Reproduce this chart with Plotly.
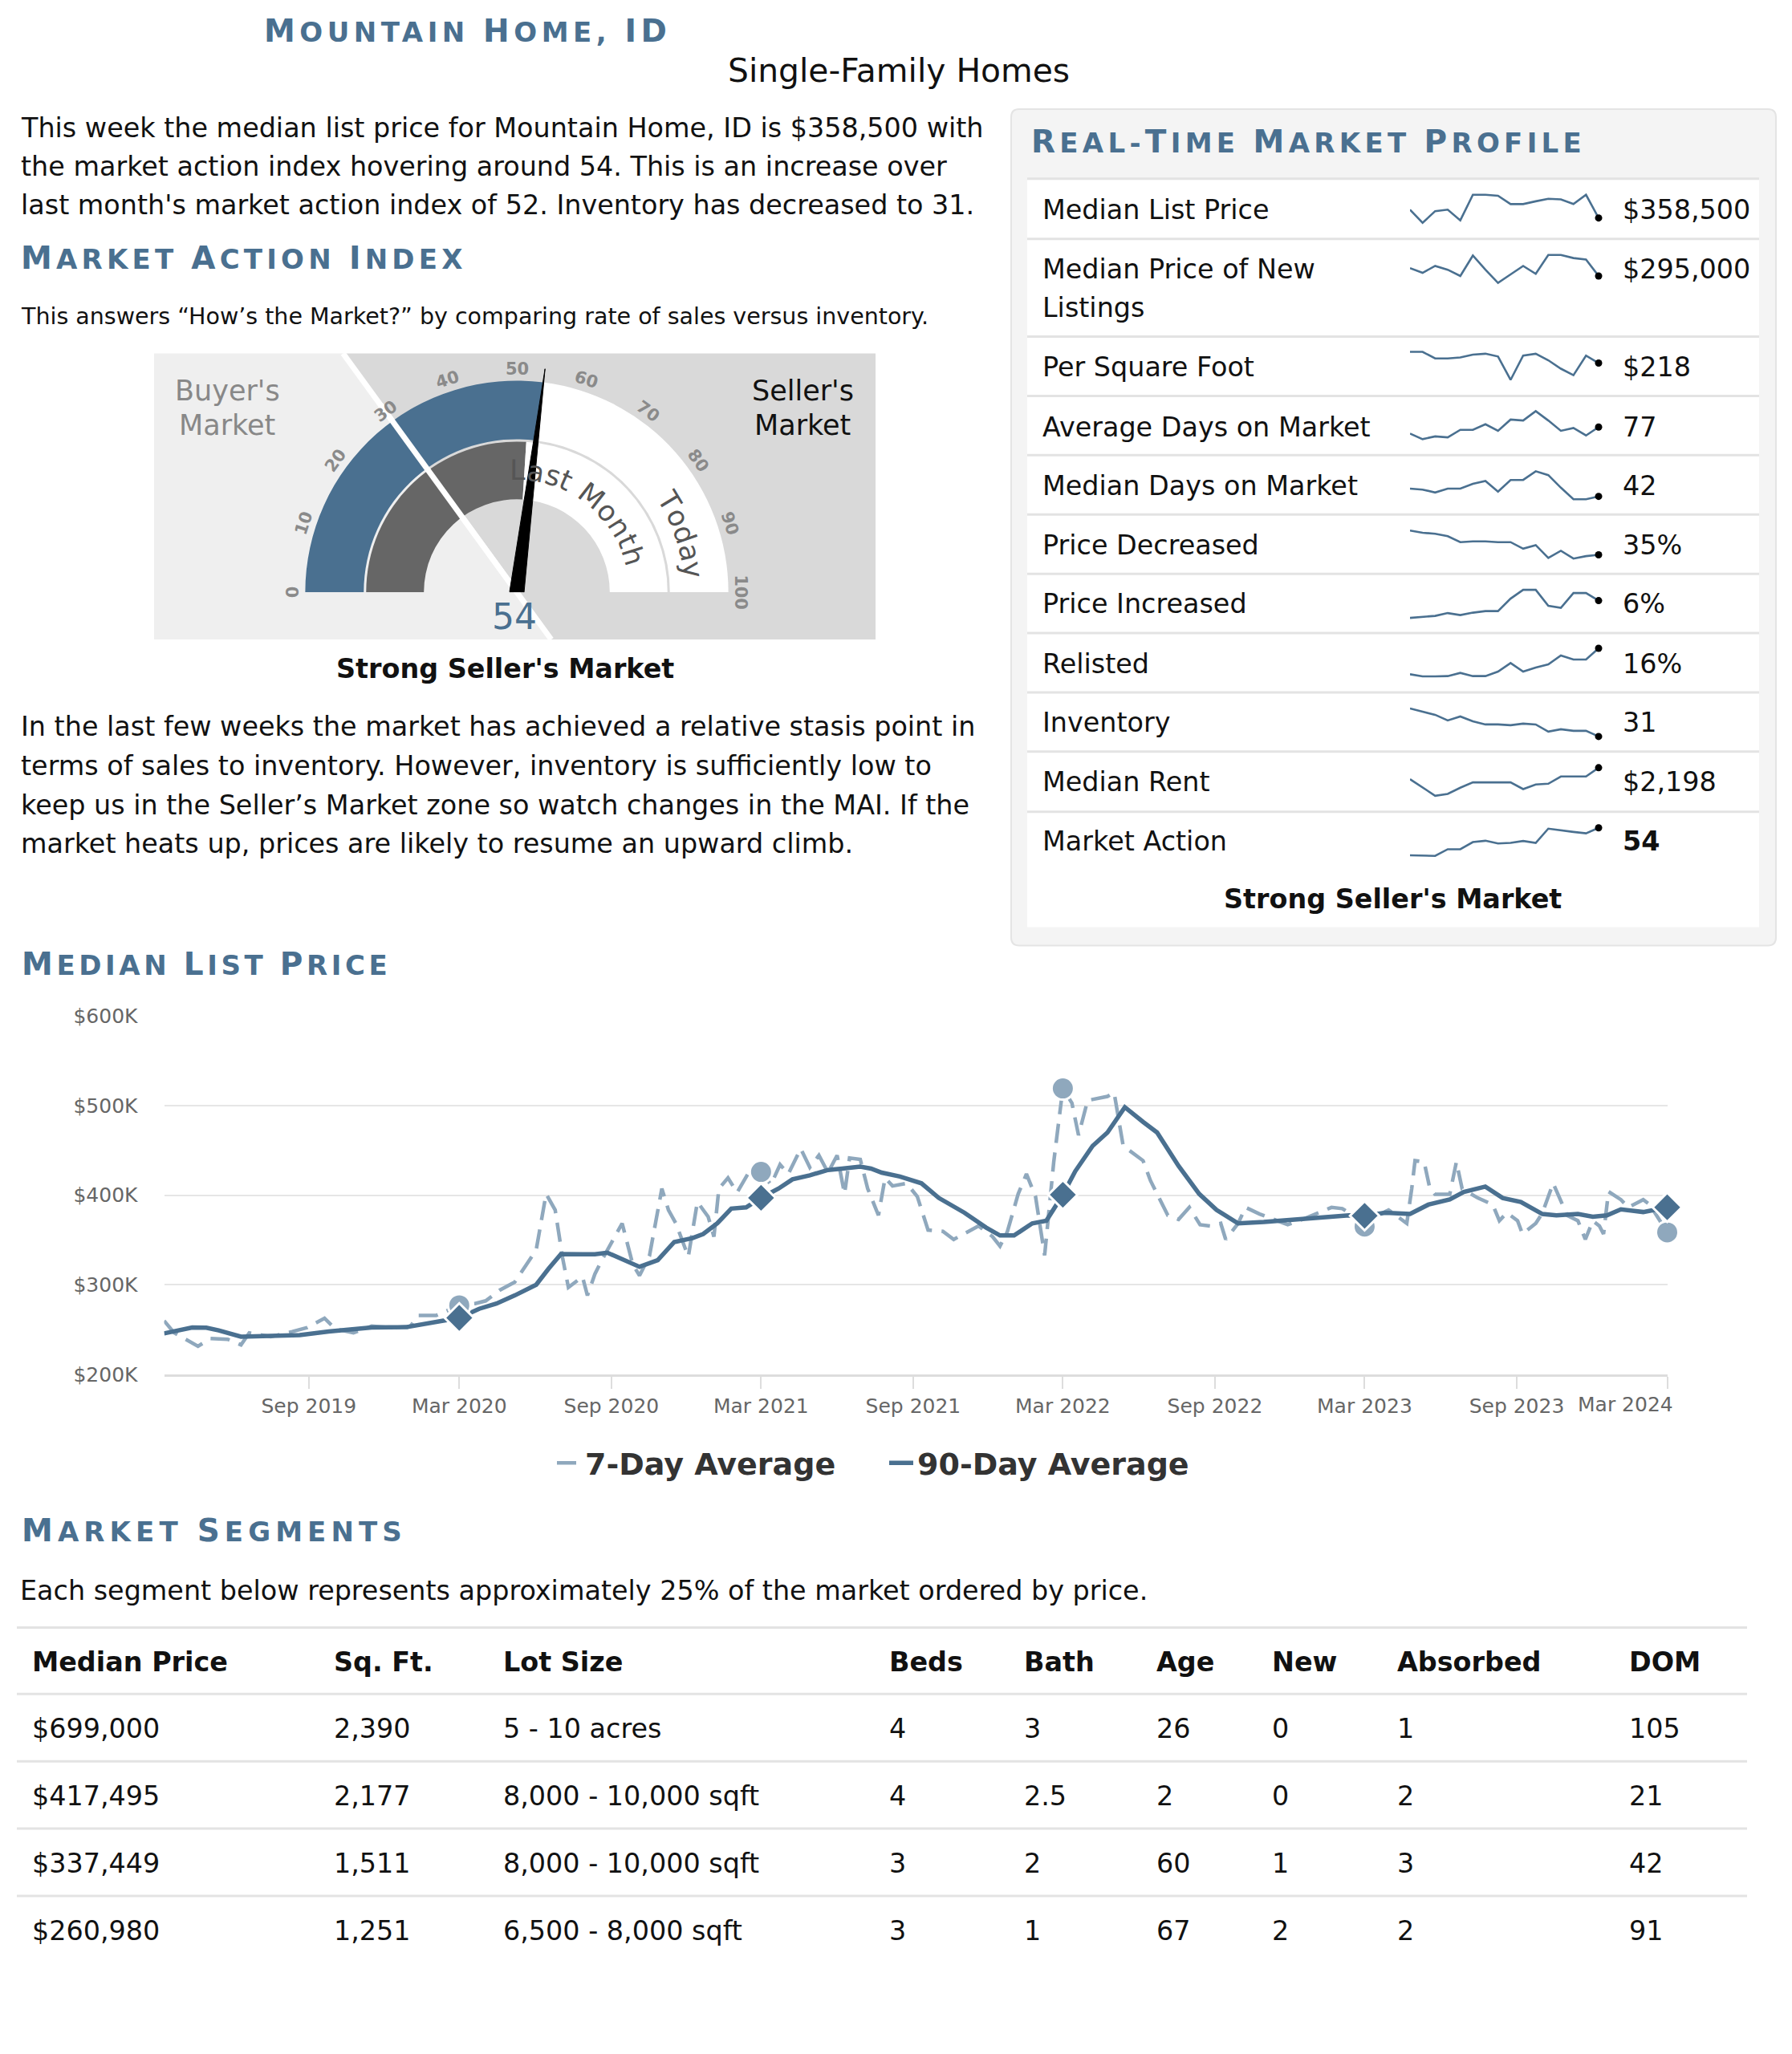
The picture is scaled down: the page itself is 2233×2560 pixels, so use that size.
import math
import plotly.graph_objects as go

W, H = 2233, 2560
FONT = "DejaVu Sans"
BLUE = "#4a7090"
LIGHT = "#8fa8bd"
INK = "#111111"
BODY = 33.4
# the capture shifts/squeezes the page slightly in the vertical direction; compensate
V_OFF, V_SC = 13.9, 0.99


def X(px):
    return px / W


def Y(py):
    return 1 - ((py - V_OFF) / V_SC) / H


# ---------------- DATA ----------------
CITY = "Mountain Home, ID"
SEGMENT = "Single-Family Homes"
INTRO_LINES = [
    "This week the median list price for Mountain Home, ID is $358,500 with",
    "the market action index hovering around 54. This is an increase over",
    "last month's market action index of 52. Inventory has decreased to 31.",
]
MAI_NOTE = "This answers \u201cHow\u2019s the Market?\u201d by comparing rate of sales versus inventory."
OUTLOOK_LINES = [
    "In the last few weeks the market has achieved a relative stasis point in",
    "terms of sales to inventory. However, inventory is sufficiently low to",
    "keep us in the Seller\u2019s Market zone so watch changes in the MAI. If the",
    "market heats up, prices are likely to resume an upward climb.",
]
MARKET_STATE = "Strong Seller's Market"

MAI_TODAY = 54
MAI_LAST_MONTH = 52
MAI_SPLIT = 30
GAUGE_TICKS = [0, 10, 20, 30, 40, 50, 60, 70, 80, 90, 100]

D90_DATES = [
    "2019-03-10", "2019-04-13", "2019-04-30", "2019-05-15", "2019-06-11", "2019-07-17", "2019-08-21",
    "2019-09-25", "2019-10-25", "2019-11-16", "2019-12-29", "2020-02-02", "2020-03-01", "2020-03-25",
    "2020-04-15", "2020-05-07", "2020-06-02", "2020-06-17", "2020-07-02", "2020-07-28", "2020-08-12",
    "2020-08-27", "2020-09-14", "2020-10-05", "2020-10-27", "2020-11-16", "2020-12-08", "2020-12-21",
    "2021-01-07", "2021-01-24", "2021-02-11", "2021-03-01", "2021-03-22", "2021-04-08", "2021-04-29",
    "2021-05-21", "2021-06-07", "2021-06-29", "2021-07-12", "2021-07-25", "2021-08-16", "2021-09-11",
    "2021-10-02", "2021-11-02", "2021-11-28", "2021-12-15", "2022-01-01", "2022-01-23", "2022-02-09",
    "2022-03-01", "2022-03-16", "2022-04-06", "2022-04-24", "2022-05-15", "2022-06-06", "2022-06-23",
    "2022-07-19", "2022-08-13", "2022-09-03", "2022-09-29", "2022-10-30", "2022-12-03", "2022-12-29",
    "2023-02-10", "2023-03-01", "2023-03-26", "2023-04-25", "2023-05-17", "2023-06-12", "2023-06-29",
    "2023-07-25", "2023-08-15", "2023-09-06", "2023-10-02", "2023-10-19", "2023-11-14", "2023-12-02",
    "2023-12-19", "2024-01-05", "2024-02-01", "2024-03-01",
]
D90_VALUES = [
    245600, 252200, 252000, 249000, 242000, 242300, 243800,
    247700, 250700, 252200, 252800, 258800, 263000, 273100,
    279000, 288000, 300000, 317900, 334200, 334000, 334000,
    335800, 328200, 320000, 327500, 347700, 352100, 356600,
    368500, 385000, 386400, 397000, 407300, 417700, 422200,
    428200, 429700, 431800, 429700, 425200, 420800, 413300,
    396900, 380400, 364000, 355000, 355000, 368500, 371500,
    400500, 426700, 455000, 470000, 498300, 481900, 470000,
    432700, 401400, 383500, 368500, 370000, 372100, 374500,
    377500, 377000, 380400, 379000, 389400, 395300, 403600,
    409600, 396900, 392400, 379000, 377500, 379000, 376000,
    377500, 384200, 381200, 386500,
]

D7_DATES = [
    "2019-03-10", "2019-03-22", "2019-04-20", "2019-05-05", "2019-05-26", "2019-06-11", "2019-06-21",
    "2019-07-17", "2019-08-12", "2019-08-30", "2019-09-20", "2019-10-03", "2019-10-25", "2019-11-16",
    "2019-12-12", "2020-01-02", "2020-01-11", "2020-02-02", "2020-03-01", "2020-03-20", "2020-04-02",
    "2020-04-19", "2020-05-07", "2020-05-20", "2020-06-02", "2020-06-14", "2020-06-25", "2020-07-04",
    "2020-07-11", "2020-07-28", "2020-08-03", "2020-08-12", "2020-08-21", "2020-09-14", "2020-09-27",
    "2020-10-05", "2020-10-17", "2020-11-01", "2020-11-09", "2020-11-18", "2020-12-03", "2020-12-14",
    "2020-12-27", "2021-01-03", "2021-01-09", "2021-01-20", "2021-01-31", "2021-02-14", "2021-03-01",
    "2021-03-13", "2021-03-24", "2021-04-03", "2021-04-18", "2021-04-29", "2021-05-10", "2021-05-21",
    "2021-06-01", "2021-06-10", "2021-06-16", "2021-06-29", "2021-07-08", "2021-07-21", "2021-07-29",
    "2021-08-07", "2021-08-24", "2021-09-06", "2021-09-19", "2021-10-07", "2021-10-20", "2021-11-01",
    "2021-11-19", "2021-12-06", "2021-12-15", "2021-12-24", "2022-01-06", "2022-01-16", "2022-01-27",
    "2022-02-07", "2022-02-18", "2022-03-01", "2022-03-12", "2022-03-20", "2022-03-31", "2022-04-24",
    "2022-05-02", "2022-05-13", "2022-06-06", "2022-06-15", "2022-06-27", "2022-07-06", "2022-07-19",
    "2022-08-01", "2022-08-14", "2022-08-26", "2022-09-08", "2022-09-14", "2022-09-29", "2022-10-08",
    "2022-10-25", "2022-11-07", "2022-11-28", "2022-12-20", "2023-01-20", "2023-02-02", "2023-02-15",
    "2023-03-01", "2023-03-17", "2023-03-30", "2023-04-21", "2023-04-27", "2023-05-01", "2023-05-12",
    "2023-05-19", "2023-05-25", "2023-06-12", "2023-06-20", "2023-06-27", "2023-07-16", "2023-08-03",
    "2023-08-11", "2023-08-20", "2023-09-02", "2023-09-08", "2023-09-24", "2023-10-02", "2023-10-15",
    "2023-10-24", "2023-11-01", "2023-11-14", "2023-11-23", "2023-12-02", "2023-12-10", "2023-12-15",
    "2023-12-21", "2024-01-05", "2024-01-14", "2024-02-01", "2024-02-09", "2024-03-01",
]
D7_VALUES = [
    259700, 246500, 231300, 240000, 239000, 232800, 246200,
    242000, 247700, 252200, 262600, 250700, 246200, 253700,
    252000, 253700, 265600, 265600, 277000, 279000, 282000,
    294000, 302900, 320800, 338700, 401400, 383500, 329800,
    297000, 309000, 288000, 311900, 328300, 368500, 322200,
    310300, 332000, 407300, 383500, 368500, 331300, 392400,
    376000, 353700, 407300, 419300, 402900, 425200, 426000,
    411800, 434200, 423700, 452000, 431100, 444500, 425200,
    444500, 401400, 441600, 440000, 407300, 377500, 419300,
    410300, 413300, 398400, 361100, 359600, 350600, 356600,
    365600, 353700, 343200, 359600, 401400, 423700, 398400,
    332800, 437100, 519200, 502800, 467000, 505800, 510300,
    514800, 455000, 438600, 416300, 395300, 377500, 373000,
    386400, 367000, 365600, 368500, 350600, 368500, 386400,
    379000, 374500, 367000, 374500, 386400, 385000, 377500,
    365000, 377500, 383500, 368500, 407300, 438600, 437100,
    407300, 401000, 401000, 437100, 407000, 396900, 389400,
    371500, 380400, 371500, 356600, 368500, 380000, 413300,
    395000, 377500, 371500, 350600, 371500, 365600, 356600,
    404000, 395000, 386400, 395000, 389400, 358500,
]
MARKER_DATES = ["2020-03-01", "2021-03-01", "2022-03-01", "2023-03-01", "2024-03-01"]
X_TICKS = ["2019-09-01", "2020-03-01", "2020-09-01", "2021-03-01", "2021-09-01",
           "2022-03-01", "2022-09-01", "2023-03-01", "2023-09-01", "2024-03-01"]
X_TICK_LABELS = ["Sep 2019", "Mar 2020", "Sep 2020", "Mar 2021", "Sep 2021",
                 "Mar 2022", "Sep 2022", "Mar 2023", "Sep 2023", "Mar 2024"]
Y_TICKS = [200000, 300000, 400000, 500000, 600000]
Y_TICK_LABELS = ["$200K", "$300K", "$400K", "$500K", "$600K"]
SERIES_NAMES = ["7-Day Average", "90-Day Average"]

SPARK_WEEKS = ["2023-11-17", "2023-11-24", "2023-12-01", "2023-12-08", "2023-12-15", "2023-12-22",
               "2023-12-29", "2024-01-05", "2024-01-12", "2024-01-19", "2024-01-26", "2024-02-02",
               "2024-02-09", "2024-02-16", "2024-02-23", "2024-03-01"]
SPARK_LIST_PRICE = [373400, 349700, 370700, 373400, 354100, 400000, 400000, 398300, 383400, 383400,
                    388400, 392800, 391700, 383400, 400000, 358500]
SPARK_NEW_LISTINGS = [311800, 301700, 316500, 308400, 295000, 338700, 308400, 280200, 298400, 316500,
                      299700, 340000, 340000, 333300, 330000, 295000]
SPARK_PER_SQFT = [230, 230, 223, 223, 224, 227, 228, 225, 200, 226, 228, 221, 212, 205, 226, 218]
SPARK_AVG_DOM = [70, 64, 67, 66, 74, 74, 80, 73, 85, 84, 94, 84, 73, 76, 68, 77]
SPARK_MED_DOM = [50, 49, 46, 50, 50, 55, 58, 47, 59, 59, 68, 64, 51, 39, 39, 42]
SPARK_PRICE_DEC = [48, 46.8, 46.3, 45, 41.8, 42.2, 42.2, 41.8, 41.8, 38.3, 40.2, 33.3, 37.2, 33, 34.3, 35]
SPARK_PRICE_INC = [1.7, 2.0, 2.2, 2.9, 2.4, 3.0, 3.4, 3.4, 6.5, 8.7, 8.7, 4.7, 4.2, 7.9, 7.9, 6]
SPARK_RELISTED = [6.3, 5.5, 5.5, 5.6, 6.8, 5.6, 5.6, 7.3, 10.5, 7.3, 8.8, 10, 13.3, 11.8, 11.8, 16]
SPARK_INVENTORY = [66, 62, 58, 51, 56, 50, 46, 46, 45, 47, 46, 37, 40, 38, 38, 31]
SPARK_RENT = [2026, 1898, 1778, 1806, 1898, 1978, 1978, 1978, 1978, 1878, 1946, 1958, 2066, 2066, 2066, 2198]
SPARK_MAI = [34, 33.6, 33.6, 38.4, 38.4, 43.6, 44.6, 42.6, 43, 44.4, 43, 53.4, 52, 51, 50, 54]

PROFILE_LABELS = [["Median List Price"], ["Median Price of New", "Listings"], ["Per Square Foot"],
                  ["Average Days on Market"], ["Median Days on Market"], ["Price Decreased"],
                  ["Price Increased"], ["Relisted"], ["Inventory"], ["Median Rent"], ["Market Action"]]
PROFILE_VALUES = ["$358,500", "$295,000", "$218", "77", "42", "35%", "6%", "16%", "31", "$2,198", "54"]
PROFILE_SPARKS = [SPARK_LIST_PRICE, SPARK_NEW_LISTINGS, SPARK_PER_SQFT, SPARK_AVG_DOM, SPARK_MED_DOM,
                  SPARK_PRICE_DEC, SPARK_PRICE_INC, SPARK_RELISTED, SPARK_INVENTORY, SPARK_RENT, SPARK_MAI]

SEG_HEADERS = ["Median Price", "Sq. Ft.", "Lot Size", "Beds", "Bath", "Age", "New", "Absorbed", "DOM"]
SEG_MEDIAN_PRICE = [699000, 417495, 337449, 260980]
SEG_SQFT = [2390, 2177, 1511, 1251]
SEG_LOT = ["5 - 10 acres", "8,000 - 10,000 sqft", "8,000 - 10,000 sqft", "6,500 - 8,000 sqft"]
SEG_BEDS = [4, 4, 3, 3]
SEG_BATH = [3, 2.5, 2, 1]
SEG_AGE = [26, 2, 60, 67]
SEG_NEW = [0, 0, 1, 2]
SEG_ABSORBED = [1, 2, 3, 2]
SEG_DOM = [105, 21, 42, 91]
SEG_NOTE = "Each segment below represents approximately 25% of the market ordered by price."

# ---------------- helpers ----------------
DV = {'A': .684, 'B': .686, 'C': .698, 'D': .770, 'E': .632, 'F': .575, 'G': .775, 'H': .752, 'I': .295,
      'J': .295, 'K': .656, 'L': .557, 'M': .863, 'N': .748, 'O': .787, 'P': .603, 'Q': .787, 'R': .695,
      'S': .635, 'T': .611, 'U': .732, 'V': .684, 'W': .989, 'X': .685, 'Y': .611, 'Z': .685,
      ' ': .318, ',': .318, '-': .361, '.': .318,
      'a': .613, 'd': .635, 'h': .634, 'n': .634, 'o': .612, 's': .521, 't': .392, 'y': .592}
DVB = {'A': .774, 'B': .762, 'C': .734, 'D': .830, 'E': .683, 'F': .683, 'G': .821, 'H': .837, 'I': .372,
       'J': .372, 'K': .775, 'L': .637, 'M': .995, 'N': .837, 'O': .850, 'P': .733, 'Q': .850, 'R': .770,
       'S': .720, 'T': .682, 'U': .812, 'V': .774, 'W': 1.103, 'X': .771, 'Y': .724, 'Z': .725,
       ' ': .348, ',': .380, '-': .415, '.': .380}

ann = []
shapes = []


def text(x, y, s, size=BODY, color=INK, anchor="left", bold=False, angle=0, yanchor="middle"):
    ann.append(dict(x=X(x), y=Y(y), xref="paper", yref="paper", text=s, showarrow=False,
                    xanchor=anchor, yanchor=yanchor, textangle=angle,
                    font=dict(family=FONT, size=size, color=color, weight=700 if bold else 400)))


def smallcaps(s, big, small, target):
    groups = []
    for ch in s:
        isbig = ch.isupper()
        if groups and groups[-1][1] == isbig:
            groups[-1][0] += ch
        else:
            groups.append([ch, isbig])
    natural = sum(DVB.get(c.upper(), .7) * (big if b else small) for g, b in groups for c in g)
    spacing = max(0.0, (target - natural) / len(s))
    html = "".join(g if b else "<span style='font-size:%dpx'>%s</span>" % (small, g.upper()) for g, b in groups)
    return "<span style='letter-spacing:%.1fpx'>%s</span>" % (spacing, html)


def header(x, y, s, target, anchor="left"):
    text(x, y, smallcaps(s, 39, 34, target), size=39, color=BLUE, anchor=anchor, bold=True)


def rect(x0, y0, x1, y1, fill, line=None, lw=0, layer="below"):
    shapes.append(dict(type="rect", xref="paper", yref="paper", x0=X(x0), x1=X(x1), y0=Y(y1), y1=Y(y0),
                       fillcolor=fill, line=dict(color=line or fill, width=lw), layer=layer))


def hline(x0, x1, y, color="#e3e3e3", w=3, layer="below"):
    shapes.append(dict(type="line", xref="paper", yref="paper", x0=X(x0), x1=X(x1), y0=Y(y), y1=Y(y),
                       line=dict(color=color, width=w), layer=layer))


def poly(pts, fill, layer="below"):
    d = "M " + " L ".join("%f,%f" % (X(a), Y(b)) for a, b in pts) + " Z"
    shapes.append(dict(type="path", xref="paper", yref="paper", path=d, fillcolor=fill,
                       line=dict(width=0), layer=layer))


def rounded(x0, y0, x1, y1, r, fill, line, lw):
    p = lambda a, b: "%f,%f" % (X(a), Y(b))
    d = ("M " + p(x0 + r, y0) + " L " + p(x1 - r, y0) + " Q " + p(x1, y0) + " " + p(x1, y0 + r) +
         " L " + p(x1, y1 - r) + " Q " + p(x1, y1) + " " + p(x1 - r, y1) +
         " L " + p(x0 + r, y1) + " Q " + p(x0, y1) + " " + p(x0, y1 - r) +
         " L " + p(x0, y0 + r) + " Q " + p(x0, y0) + " " + p(x0 + r, y0) + " Z")
    shapes.append(dict(type="path", xref="paper", yref="paper", path=d, fillcolor=fill,
                       line=dict(color=line, width=lw), layer="below"))


fig = go.Figure()

# ---------------- top texts ----------------
header(582, 38, CITY, 510, anchor="center")
text(1120, 88, SEGMENT, size=40.8, anchor="center")
for i, line in enumerate(INTRO_LINES):
    text(24, 160 + i * 48, line)
header(24, 322, "Market Action Index", 556)
text(24, 395, MAI_NOTE, size=28.5)
for i, line in enumerate(OUTLOOK_LINES):
    text(24, 907 + i * 48.7, line)

# ---------------- gauge ----------------
CX, CY = 644, 739
RP = 290
GX0, GY0, GX1, GY1 = 192, 441, 1091, 798
a = math.radians(MAI_SPLIT * 1.8)
dx, dy = -math.cos(a), -math.sin(a)
xt = CX + dx * (CY - GY0) / (-dy)
xb = CX - dx * (GY1 - CY) / (-dy)
poly([(GX0, GY0), (xt, GY0), (xb, GY1), (GX0, GY1)], "#efefef")
poly([(xt, GY0), (GX1, GY0), (GX1, GY1), (xb, GY1)], "#d9d9d9")
shapes.append(dict(type="line", xref="paper", yref="paper", x0=X(xt), y0=Y(GY0), x1=X(xb), y1=Y(GY1),
                   line=dict(color="white", width=7), layer="below"))

deg = lambda v: v * 1.8
fig.add_trace(go.Barpolar(
    theta=[deg(MAI_TODAY) / 2, (deg(MAI_TODAY) + 180) / 2], width=[deg(MAI_TODAY), 180 - deg(MAI_TODAY)],
    r=[73, 73], base=[191, 191], marker=dict(color=[BLUE, "white"], line=dict(width=0)),
    showlegend=False, hoverinfo="skip"))
fig.add_trace(go.Barpolar(
    theta=[deg(MAI_LAST_MONTH) / 2, (deg(MAI_LAST_MONTH) + 180) / 2],
    width=[deg(MAI_LAST_MONTH), 180 - deg(MAI_LAST_MONTH)],
    r=[72, 72], base=[116, 116], marker=dict(color=["#666666", "white"], line=dict(width=0)),
    showlegend=False, hoverinfo="skip"))
fig.add_trace(go.Scatterpolar(r=[0, RP], theta=[deg(MAI_SPLIT)] * 2, mode="lines",
                              line=dict(color="white", width=7), showlegend=False, hoverinfo="skip",
                              cliponaxis=False))
t = deg(MAI_TODAY)
fig.add_trace(go.Scatterpolar(
    r=[281, 9, 9, 9, 9, 9, 281], theta=[t, t + 90, t + 135, t + 180, t + 225, t + 270, t],
    mode="lines", fill="toself", fillcolor="black", line=dict(color="black", width=1),
    showlegend=False, hoverinfo="skip", cliponaxis=False))

for v in GAUGE_TICKS:
    ang = math.radians(deg(v))
    text(CX - 279 * math.cos(ang), CY - 279 * math.sin(ang), str(v), size=21, color="#8a8a8a",
         anchor="center", bold=True, angle=deg(v) - 90)

text(283, 488, "Buyer's", size=35, color="#888888", anchor="center")
text(283, 531, "Market", size=35, color="#888888", anchor="center")
text(1000, 488, "Seller's", size=35, color=INK, anchor="center")
text(1000, 531, "Market", size=35, color=INK, anchor="center")
text(641, 769, str(MAI_TODAY), size=44, color=BLUE, anchor="center")


def arc_text(s, r_c, r_adv, start, size, color):
    w = [DV.get(c, .6) * size for c in s]
    cum = 0
    for i, ch in enumerate(s):
        phi = start + math.degrees((cum + w[i] / 2 - w[0] / 2) / r_adv)
        if ch != " ":
            text(CX + r_c * math.sin(math.radians(phi)), CY - r_c * math.cos(math.radians(phi)), ch,
                 size=size, color=color, anchor="center", angle=phi)
        cum += w[i]


arc_text("Last Month", 152, 137, 0.3, 35, "#555555")
arc_text("Today", 221, 209, 59, 35, "#555555")
text(629, 835, MARKET_STATE, anchor="center", bold=True)

# ---------------- right panel ----------------
rounded(1260, 136, 2213, 1180, 10, "#f4f4f4", "#e4e4e4", 2)
header(1283, 177, "Real-Time Market Profile", 691)
rect(1280, 223, 2192, 1157, "white")
SEPS = [223, 298, 420, 494, 568, 642, 716, 790, 864, 938, 1013]
for s in SEPS:
    hline(1280, 2192, s, "#e3e3e3", 3)
LABEL_Y = [262, 336, 458, 533, 606, 680, 753, 828, 902, 976, 1050]
SPARK_TOP = [243, 318, 439, 513, 588, 662, 736, 809, 884, 958, 1033]
for i, lab in enumerate(PROFILE_LABELS):
    for j, part in enumerate(lab):
        text(1297, LABEL_Y[i] + j * 48, part)
    text(2020, LABEL_Y[i], PROFILE_VALUES[i], bold=(i == len(PROFILE_LABELS) - 1))
text(1736, 1122, MARKET_STATE, anchor="center", bold=True)

layout_axes = {}
for i, vals in enumerate(PROFILE_SPARKS):
    n = i + 2
    lo, hi = min(vals), max(vals)
    pad = (hi - lo) * 4 / 35
    top = SPARK_TOP[i]
    layout_axes["xaxis%d" % n] = dict(domain=[X(1757), X(1992)], range=[SPARK_WEEKS[0], SPARK_WEEKS[-1]],
                                      visible=False, anchor="y%d" % n, fixedrange=True)
    layout_axes["yaxis%d" % n] = dict(domain=[Y(top + 35 + 4), Y(top - 4)], range=[lo - pad, hi + pad],
                                      visible=False, anchor="x%d" % n, fixedrange=True)
    fig.add_trace(go.Scatter(x=SPARK_WEEKS, y=vals, mode="lines", line=dict(color=BLUE, width=2.6),
                             xaxis="x%d" % n, yaxis="y%d" % n, showlegend=False, hoverinfo="skip"))
    fig.add_trace(go.Scatter(x=[SPARK_WEEKS[-1]], y=[vals[-1]], mode="markers",
                             marker=dict(color="black", size=9), cliponaxis=False,
                             xaxis="x%d" % n, yaxis="y%d" % n, showlegend=False, hoverinfo="skip"))

# ---------------- median list price chart ----------------
header(25, 1203, "Median List Price", 460)
fig.add_trace(go.Scatter(x=D7_DATES, y=D7_VALUES, mode="lines", name=SERIES_NAMES[0],
                         line=dict(color=LIGHT, width=4.5, dash="24px,12px"), hoverinfo="skip"))
fig.add_trace(go.Scatter(x=D90_DATES, y=D90_VALUES, mode="lines", name=SERIES_NAMES[1],
                         line=dict(color=BLUE, width=5.5), hoverinfo="skip"))
m7 = [(d, v) for d, v in zip(D7_DATES, D7_VALUES) if d in MARKER_DATES]
m90 = [(d, v) for d, v in zip(D90_DATES, D90_VALUES) if d in MARKER_DATES]
fig.add_trace(go.Scatter(x=[d for d, _ in m7], y=[v for _, v in m7], mode="markers", showlegend=False,
                         marker=dict(color=LIGHT, size=28, line=dict(color="white", width=3)),
                         cliponaxis=False, hoverinfo="skip"))
fig.add_trace(go.Scatter(x=[d for d, _ in m90], y=[v for _, v in m90], mode="markers", showlegend=False,
                         marker=dict(color=BLUE, size=28, symbol="diamond", line=dict(color="white", width=3)),
                         cliponaxis=False, hoverinfo="skip"))
# last x label is pulled inside the plot like the original
text(2025, 1753, X_TICK_LABELS[-1], size=25, color="#666666", anchor="center")
tick_text = X_TICK_LABELS[:-1] + [""]

# ---------------- market segments ----------------
header(25, 1910, "Market Segments", 480)
text(23, 1985, SEG_NOTE)
for s in [2031, 2114, 2198, 2282, 2366]:
    hline(21, 2177, s, "#e3e3e3", 3, layer="above")
fig.add_trace(go.Table(
    domain=dict(x=[X(32), X(2177)], y=[Y(2490), Y(2047)]),
    columnwidth=[376, 211, 481, 168, 165, 144, 156, 289, 155],
    header=dict(values=["<b>%s</b>" % h for h in SEG_HEADERS], align="left", height=89,
                font=dict(family=FONT, size=BODY, color=INK), fill_color="white",
                line=dict(color="white", width=1)),
    cells=dict(values=[["${:,}".format(v) for v in SEG_MEDIAN_PRICE], ["{:,}".format(v) for v in SEG_SQFT],
                       SEG_LOT, SEG_BEDS, ["%g" % v for v in SEG_BATH], SEG_AGE, SEG_NEW, SEG_ABSORBED,
                       SEG_DOM],
               align="left", height=84, font=dict(family=FONT, size=BODY, color=INK), fill_color="white",
               line=dict(color="white", width=1))))

fig.update_layout(
    width=W, height=H, autosize=False, margin=dict(l=0, r=0, t=0, b=0),
    paper_bgcolor="white", plot_bgcolor="rgba(0,0,0,0)", hovermode=False,
    font=dict(family=FONT, color=INK),
    xaxis=dict(domain=[X(204.5), X(2077.5)], type="date", range=["2019-03-10", "2024-03-01"],
               tickvals=X_TICKS, ticktext=tick_text, showgrid=False, zeroline=False,
               showline=True, linecolor="#dddddd", linewidth=3, ticks="outside", ticklen=15,
               tickwidth=2, tickcolor="#dddddd", tickfont=dict(family=FONT, size=25, color="#666666"),
               anchor="y", fixedrange=True),
    yaxis=dict(domain=[Y(1715), Y(1268)], range=[200000, 600000], tickvals=Y_TICKS, ticktext=Y_TICK_LABELS,
               showgrid=True, gridcolor="#e6e6e6", gridwidth=2, zeroline=False, showline=False, ticks="",
               ticklabelstandoff=32, tickfont=dict(family=FONT, size=25, color="#666666"),
               anchor="x", fixedrange=True),
    polar=dict(domain=dict(x=[X(CX - RP), X(CX + RP)], y=[Y(CY), Y(CY - RP)]), sector=[0, 180],
               bgcolor="rgba(0,0,0,0)", hole=0,
               angularaxis=dict(visible=False, rotation=180, direction="clockwise", showgrid=False),
               radialaxis=dict(visible=False, range=[0, RP], showgrid=False)),
    legend=dict(orientation="h", x=X(689), xanchor="left", y=Y(1826), yanchor="middle",
                entrywidth=369, entrywidthmode="pixels",
                font=dict(family=FONT, size=38, color="#333333", weight=700), bgcolor="rgba(0,0,0,0)"),
    annotations=ann, shapes=shapes,
    **layout_axes,
)

fig.write_html(
    "out.html",
    config={"displayModeBar": False, "staticPlot": True},
    post_script="var gd = document.getElementById('{plot_id}');"
                "document.documentElement.style.margin='0';document.body.style.margin='0';"
                "document.body.style.padding='0';document.documentElement.style.overflow='hidden';"
                "document.body.style.overflow='hidden';"
                "gd.style.position='fixed';gd.style.top='0px';gd.style.left='0px';",
)
